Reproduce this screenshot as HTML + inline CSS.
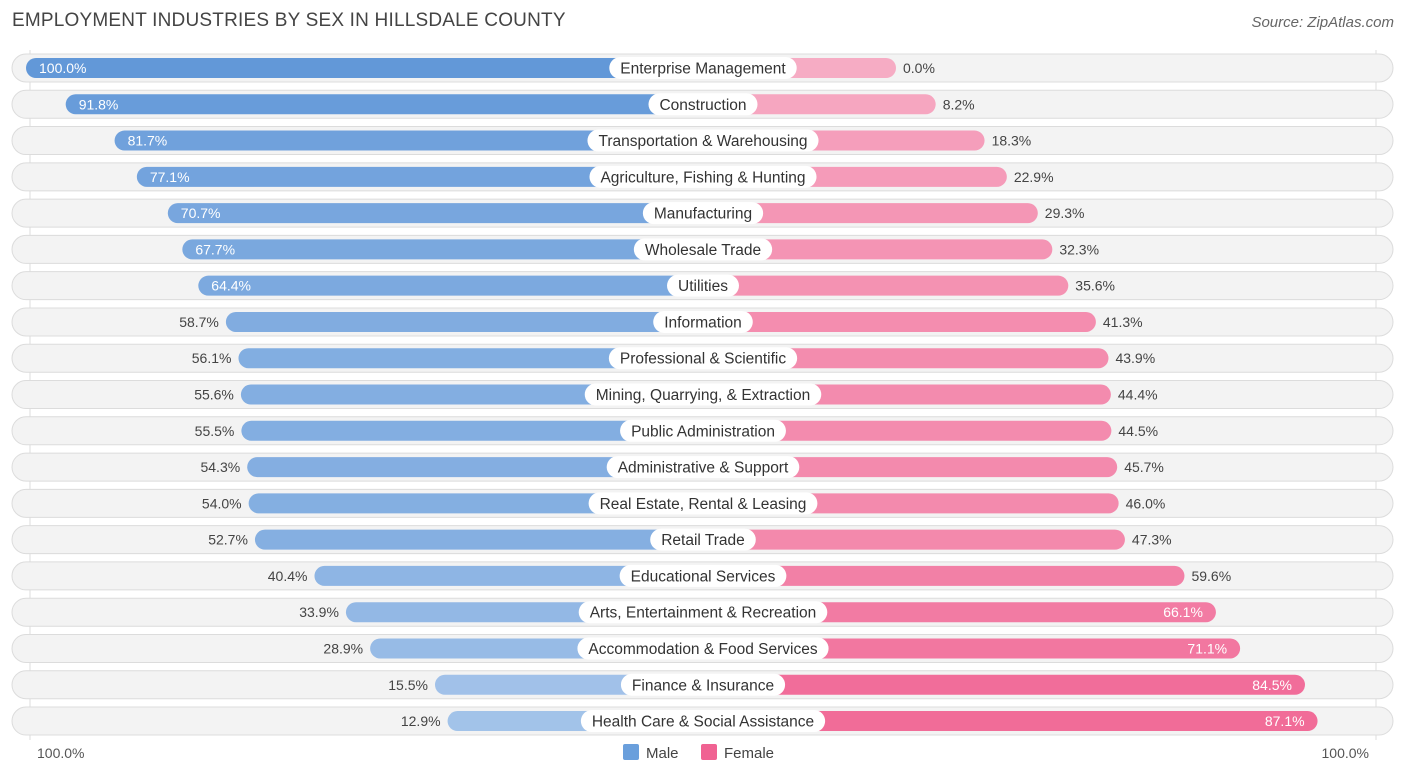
<!DOCTYPE html>
<html><head><meta charset="utf-8"><style>
body{margin:0;background:#fff;font-family:"Liberation Sans",sans-serif;}
#wrap{position:relative;width:1406px;height:776px;overflow:hidden;}
.title{position:absolute;left:12px;top:10px;font-size:19px;color:#444;letter-spacing:0.2px}
.src{position:absolute;right:12px;top:14px;font-size:15px;color:#666;font-style:italic}
</style></head><body>
<div id="wrap">
<div class="title">EMPLOYMENT INDUSTRIES BY SEX IN HILLSDALE COUNTY</div>
<div class="src">Source: ZipAtlas.com</div>
<svg id="svg" width="1406" height="776" style="position:absolute;left:0;top:0"></svg>
</div>
<script>
const categories=["Enterprise Management","Construction","Transportation & Warehousing","Agriculture, Fishing & Hunting","Manufacturing","Wholesale Trade","Utilities","Information","Professional & Scientific","Mining, Quarrying, & Extraction","Public Administration","Administrative & Support","Real Estate, Rental & Leasing","Retail Trade","Educational Services","Arts, Entertainment & Recreation","Accommodation & Food Services","Finance & Insurance","Health Care & Social Assistance"];
const maleValues=[100.0,91.8,81.7,77.1,70.7,67.7,64.4,58.7,56.1,55.6,55.5,54.3,54.0,52.7,40.4,33.9,28.9,15.5,12.9];
const femaleValues=[0.0,8.2,18.3,22.9,29.3,32.3,35.6,41.3,43.9,44.4,44.5,45.7,46.0,47.3,59.6,66.1,71.1,84.5,87.1];
const axisLabels=["100.0%","100.0%"];
const NS="http://www.w3.org/2000/svg";
const svg=document.getElementById('svg');
const cx=703,off=193,scale=4.84,y0=68,pitch=36.28;
function xMale(v){return cx-off-v*scale;}
function xFemale(v){return cx+off+v*scale;}
function yRow(i){return y0+i*pitch;}
function mk(tag,attrs,parent){const e=document.createElementNS(NS,tag);for(const k in attrs)e.setAttribute(k,attrs[k]);(parent||svg).appendChild(e);return e;}
function mix(a,b,t){return 'rgb('+a.map((c,i)=>Math.round(c+(b[i]-c)*t)).join(',')+')';}
const gl=mk('line',{x1:30,x2:30,y1:50,y2:740,stroke:'#ddd','stroke-width':1});


const gr=mk('line',{x1:1376,x2:1376,y1:50,y2:740,stroke:'#ddd','stroke-width':1});


categories.forEach((c,i)=>{
  const y=yRow(i);
  const g=mk('g',{});
  
  
  const tr=mk('rect',{x:12,y:y-14,width:1381,height:28,rx:14,fill:'#f3f3f3',stroke:'#dcdcdc','stroke-width':1},g);
  
  
  const mv=maleValues[i],fv=femaleValues[i];
  const mc=mix([172,201,236],[98,152,216],mv/100);
  const fc=mix([246,172,196],[240,98,146],fv/100);
  const mb=mk('rect',{x:xMale(mv),y:y-10,width:cx-xMale(mv),height:20,rx:10,fill:mc},g);
  
  
  const fb=mk('rect',{x:cx,y:y-10,width:xFemale(fv)-cx,height:20,rx:10,fill:fc},g);
  
  
  // label pill
  const lt=mk('text',{x:cx,y:y+5.5,'text-anchor':'middle','font-size':15.5,fill:'#333','font-family':'Liberation Sans, sans-serif'},g);
  lt.textContent=c;
  const w=lt.getComputedTextLength()+22;
  const lp=mk('rect',{x:cx-w/2,y:y-11,width:w,height:22,rx:11,fill:'#fff'},g);
  g.insertBefore(lp,lt);
  
  
  
  
  const mIn=mv>=60;
  const mt=mk('text',{x:mIn?xMale(mv)+13:xMale(mv)-7,y:y+5,'text-anchor':mIn?'start':'end','font-size':14,fill:mIn?'#fff':'#444'},g);
  mt.textContent=mv.toFixed(1)+'%';
  
  
  const fIn=fv>=60;
  const ft=mk('text',{x:fIn?xFemale(fv)-13:xFemale(fv)+7,y:y+5,'text-anchor':fIn?'end':'start','font-size':14,fill:fIn?'#fff':'#444'},g);
  ft.textContent=fv.toFixed(1)+'%';
  
  
});
const a1=mk('text',{x:37,y:758,'font-size':14,fill:'#555'});a1.textContent=axisLabels[0];


const a2=mk('text',{x:1369,y:758,'font-size':14,fill:'#555','text-anchor':'end'});a2.textContent=axisLabels[1];


const l1=mk('rect',{x:623,y:744,width:16,height:16,rx:2,fill:'#6a9fdc'});


const l1t=mk('text',{x:646,y:758,'font-size':15,fill:'#444'});l1t.textContent='Male';


const l2=mk('rect',{x:701,y:744,width:16,height:16,rx:2,fill:'#f06292'});


const l2t=mk('text',{x:724,y:758,'font-size':15,fill:'#444'});l2t.textContent='Female';


</script>
</body></html>
